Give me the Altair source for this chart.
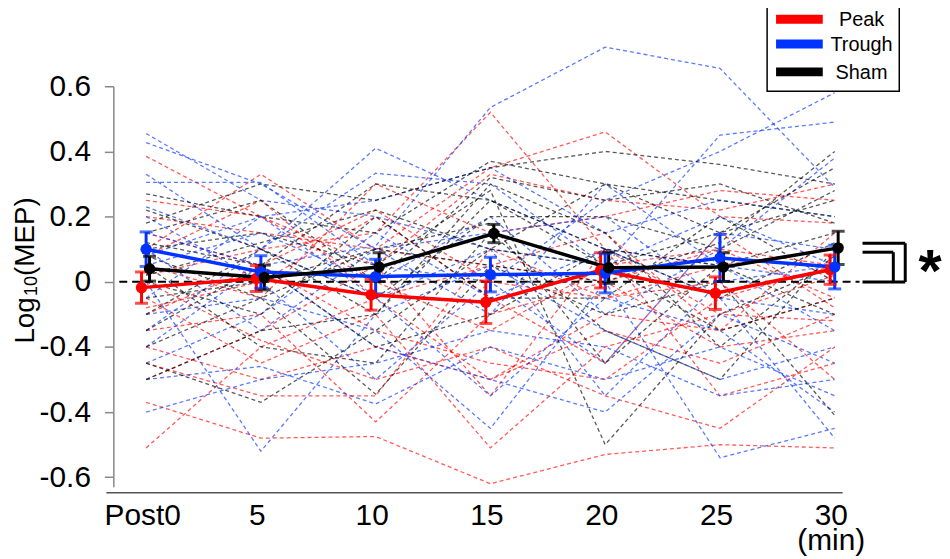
import altair as alt
import pandas as pd

# ---------------- data ----------------
time_labels = ["Post0", "5", "10", "15", "20", "25", "30"]
groups = ["Peak", "Trough", "Sham"]
group_colors = ["#ff0000", "#0033ff", "#000000"]

peak_mean = [-0.018, 0.010, -0.040, -0.063, 0.035, -0.035, 0.037]
peak_sem = [0.048, 0.040, 0.047, 0.065, 0.054, 0.050, 0.045]
trough_mean = [0.100, 0.030, 0.016, 0.022, 0.026, 0.073, 0.045]
trough_sem = [0.053, 0.050, 0.053, 0.053, 0.060, 0.072, 0.067]
sham_mean = [0.040, 0.013, 0.045, 0.148, 0.043, 0.045, 0.104]
sham_sem = [0.038, 0.038, 0.044, 0.028, 0.048, 0.044, 0.051]

peak_subjects = [
    [-0.37, -0.48, -0.475, -0.62, -0.53, -0.50, -0.51],
    [-0.51, -0.20, -0.05, -0.30, -0.10, -0.15, -0.05],
    [0.385, 0.20, 0.05, 0.33, 0.25, 0.22, 0.30],
    [0.10, 0.33, 0.10, 0.05, 0.00, 0.10, 0.05],
    [0.02, 0.10, 0.15, 0.52, 0.10, -0.10, 0.02],
    [0.20, 0.15, 0.10, 0.35, 0.46, 0.20, 0.18],
    [-0.15, -0.10, -0.43, -0.10, 0.00, -0.20, -0.15],
    [-0.05, -0.25, -0.10, -0.51, -0.20, -0.10, -0.12],
    [0.00, -0.18, -0.30, -0.20, -0.35, -0.45, -0.20],
    [-0.20, -0.30, -0.20, -0.30, -0.15, -0.25, -0.10],
    [0.15, 0.05, 0.22, 0.00, -0.05, 0.05, 0.10],
    [-0.10, 0.05, -0.15, -0.25, -0.30, -0.05, 0.05],
    [0.05, -0.05, 0.30, 0.15, 0.20, 0.28, 0.25],
    [-0.25, -0.35, -0.35, 0.10, -0.05, 0.00, -0.30],
    [0.25, 0.20, 0.00, -0.15, 0.05, 0.10, -0.05],
    [-0.30, -0.15, 0.05, -0.35, 0.10, -0.35, -0.25],
    [0.08, 0.25, -0.05, 0.05, 0.15, -0.15, 0.15],
    [-0.08, 0.00, 0.20, -0.05, -0.25, 0.15, -0.08],
]
trough_subjects = [
    [0.15, 0.05, 0.11, 0.535, 0.72, 0.655, 0.29],
    [0.455, 0.25, 0.20, 0.10, 0.05, 0.20, 0.05],
    [0.427, 0.30, 0.10, 0.15, 0.20, -0.05, -0.10],
    [0.33, 0.10, 0.41, 0.25, 0.10, 0.05, 0.00],
    [0.305, 0.305, 0.05, 0.00, 0.25, 0.40, 0.58],
    [0.23, 0.10, 0.333, 0.30, 0.05, 0.45, 0.49],
    [-0.30, -0.26, -0.375, -0.20, -0.30, -0.20, -0.35],
    [0.00, -0.52, -0.10, 0.05, -0.15, -0.30, -0.20],
    [-0.20, 0.05, -0.20, -0.30, -0.40, -0.10, -0.25],
    [-0.10, -0.05, -0.15, -0.45, 0.00, -0.54, -0.45],
    [0.05, 0.15, 0.00, 0.20, -0.10, 0.10, 0.38],
    [-0.40, -0.30, -0.25, -0.15, -0.20, -0.35, -0.30],
    [0.10, -0.15, 0.10, -0.10, 0.30, 0.05, -0.15],
    [-0.05, 0.20, -0.05, -0.35, -0.05, -0.15, -0.40],
    [0.20, 0.00, -0.30, 0.00, -0.25, 0.15, 0.10],
    [-0.25, -0.10, 0.15, -0.05, 0.10, -0.05, -0.48],
    [0.08, 0.20, 0.25, 0.35, 0.15, 0.25, 0.20],
    [-0.15, 0.10, -0.05, 0.10, -0.35, 0.00, 0.05],
]
sham_subjects = [
    [0.27, 0.20, 0.15, 0.37, 0.30, 0.25, 0.20],
    [0.18, 0.30, 0.25, 0.35, 0.40, 0.36, 0.30],
    [-0.25, -0.37, -0.15, 0.10, 0.05, 0.15, 0.35],
    [-0.20, -0.05, -0.345, 0.05, -0.10, 0.00, -0.41],
    [0.10, 0.15, 0.05, 0.28, -0.50, -0.10, 0.05],
    [0.05, -0.20, -0.25, 0.15, -0.15, -0.30, 0.10],
    [0.12, 0.05, 0.30, 0.25, 0.10, 0.05, 0.15],
    [-0.10, 0.10, -0.05, 0.20, 0.20, 0.10, 0.28],
    [0.00, -0.10, 0.20, -0.05, -0.05, 0.20, 0.00],
    [0.22, 0.10, -0.10, 0.30, 0.15, -0.20, 0.08],
    [-0.05, 0.00, 0.10, 0.18, -0.25, 0.05, -0.10],
    [0.15, 0.25, 0.00, 0.32, 0.25, 0.30, 0.18],
    [-0.15, 0.05, -0.20, -0.10, 0.10, -0.05, 0.12],
    [0.08, -0.05, 0.10, 0.05, 0.00, 0.12, 0.40],
    [-0.30, -0.15, -0.10, 0.25, 0.05, -0.15, -0.05],
    [0.02, 0.12, 0.22, 0.10, 0.30, 0.15, 0.25],
]

y_tick_values = [-0.6, -0.4, -0.2, 0, 0.2, 0.4, 0.6]
y_tick_labels = ["-0.6", "-0.4", "-0.4", "0", "0.2", "0.4", "0.6"]
x_unit_label = "(min)"
y_title_parts = ["Log", "10", "(MEP)"]
signif_mark = "*"

# ---------------- tables ----------------
means = {"Peak": (peak_mean, peak_sem), "Trough": (trough_mean, trough_sem),
         "Sham": (sham_mean, sham_sem)}
subjects = {"Peak": peak_subjects, "Trough": trough_subjects, "Sham": sham_subjects}
dodge = {"Peak": -0.04, "Trough": 0.0, "Sham": 0.03}

thin_rows = []
for g in groups:
    for s, series in enumerate(subjects[g]):
        for i, v in enumerate(series):
            thin_rows.append({"group": g, "subject": f"{g}{s}", "idx": i, "value": v})
thin_df = pd.DataFrame(thin_rows)

mean_rows = []
for g in groups:
    m, e = means[g]
    for i in range(len(time_labels)):
        mean_rows.append({"group": g, "idx": i, "xp": i + dodge[g], "mean": m[i],
                          "lo": m[i] - e[i], "hi": m[i] + e[i]})
mean_df = pd.DataFrame(mean_rows)

# ---------------- scales / axes ----------------
W, H = 734, 403
FONT = "Liberation Sans"

xs = alt.Scale(domain=[-0.2857, 6.069], nice=False, zero=False)
ys = alt.Scale(domain=[-0.629, 0.6], nice=False, zero=False)
cs = alt.Scale(domain=groups, range=group_colors)

y_expr = "''"
for v, lab in zip(y_tick_values, y_tick_labels):
    y_expr = f"round(datum.value*10)=={round(v*10)} ? '{lab}' : ({y_expr})"
x_expr = "''"
for i, lab in enumerate(time_labels):
    if i == len(time_labels) - 1:
        x_expr = f"round(datum.value)=={i} ? ['{lab}','{x_unit_label}'] : ({x_expr})"
    else:
        x_expr = f"round(datum.value)=={i} ? '{lab}' : ({x_expr})"

xaxis = alt.Axis(title=None, values=list(range(len(time_labels))), labelExpr=x_expr,
                 domain=False, ticks=False, tickSize=0, grid=False, offset=6,
                 labelFontSize=30, labelFont=FONT, labelColor="black",
                 labelPadding=8, labelOffset=-4, labelLineHeight=25,
                 labelBaseline="top", labelFlush=False, labelOverlap=False)
yaxis = alt.Axis(title=None, values=y_tick_values, labelExpr=y_expr, grid=False,
                 domainColor="#888888", domainWidth=1.5, tickColor="#888888",
                 tickWidth=1.5, tickSize=9, labelFontSize=30, labelFont=FONT,
                 labelColor="black", labelPadding=14, labelFlush=False,
                 labelOverlap=False)

X = lambda f: alt.X(f, type="quantitative", scale=xs, axis=xaxis)
Y = lambda f: alt.Y(f, type="quantitative", scale=ys, axis=yaxis)
C = lambda: alt.Color("group:N", scale=cs, legend=None)

# ---------------- layers ----------------
thin = alt.Chart(thin_df).mark_line(strokeDash=[4, 3], strokeWidth=1.3, opacity=0.65).encode(
    x=X("idx"), y=Y("value"), color=C(), detail="subject:N", order="idx:Q")

one = pd.DataFrame({"a": [0]})

zero = alt.Chart(one).mark_rule(color="black", strokeWidth=2, strokeDash=[8, 5]).encode(
    y=alt.Y(datum=0, scale=ys, axis=yaxis), x=alt.value(6), x2=alt.value(751))

xline = alt.Chart(one).mark_rule(color="#555555", strokeWidth=1.5).encode(
    x=alt.value(-7), x2=alt.value(W), y=alt.value(H + 6))

stems = alt.Chart(mean_df).mark_rule(strokeWidth=3).encode(
    x=X("xp"), y=Y("lo"), y2="hi", color=C())
cap_lo = alt.Chart(mean_df).mark_tick(orient="horizontal", size=13, thickness=3).encode(
    x=X("xp"), y=Y("lo"), color=C())
cap_hi = alt.Chart(mean_df).mark_tick(orient="horizontal", size=13, thickness=3).encode(
    x=X("xp"), y=Y("hi"), color=C())

mline = alt.Chart(mean_df).mark_line(strokeWidth=3.5).encode(
    x=X("xp"), y=Y("mean"), color=C(), order="idx:Q")
mpts = alt.Chart(mean_df).mark_circle(size=130, opacity=1).encode(
    x=X("xp"), y=Y("mean"), color=C())

# ---------------- legend (drawn box at top right) ----------------
leg_box = alt.Chart(one).mark_rect(fill="white", stroke="black", strokeWidth=1.5).encode(
    x=alt.value(658), x2=alt.value(791), y=alt.value(-82), y2=alt.value(5))
leg_rows = [-67.5, -42.5, -14.5]
leg_layers = []
for g, col, ry in zip(groups, group_colors, leg_rows):
    leg_layers.append(alt.Chart(one).mark_rule(color=col, strokeWidth=9).encode(
        x=alt.value(667), x2=alt.value(714), y=alt.value(ry)))
    leg_layers.append(alt.Chart(one).mark_text(fontSize=20, font=FONT, color="black",
                                               align="center", baseline="middle").encode(
        x=alt.value(753), y=alt.value(ry + 1), text=alt.value(g)))

# significance bracket (annotation, pixel positions within the plot)
segs = [(754, 158, 797, 158), (797, 158, 797, 197), (754, 197, 797, 197),
        (754, 167, 785, 167), (785, 167, 785, 197)]
bracket = [alt.Chart(one).mark_rule(color="black", strokeWidth=3).encode(
    x=alt.value(a), x2=alt.value(c), y=alt.value(b), y2=alt.value(d)) for a, b, c, d in segs]
star = alt.Chart(one).mark_text(fontSize=60, fontWeight="bold", font=FONT, align="center",
                                baseline="alphabetic", color="black").encode(
    x=alt.value(822), y=alt.value(206), text=alt.value(signif_mark))

# y title: Log_10(MEP)
t1 = alt.Chart(one).mark_text(angle=270, align="left", baseline="alphabetic", fontSize=28,
                              font=FONT, color="black").encode(
    x=alt.value(-80), y=alt.value(259), text=alt.value(y_title_parts[0]))
t2 = alt.Chart(one).mark_text(angle=270, align="left", baseline="alphabetic", fontSize=18,
                              font=FONT, color="black").encode(
    x=alt.value(-77), y=alt.value(211), text=alt.value(y_title_parts[1]))
t3 = alt.Chart(one).mark_text(angle=270, align="left", baseline="alphabetic", fontSize=28,
                              font=FONT, color="black").encode(
    x=alt.value(-80), y=alt.value(191), text=alt.value(y_title_parts[2]))

chart = alt.layer(thin, zero, xline, stems, cap_lo, cap_hi, mline, mpts, leg_box,
                  *leg_layers, *bracket, star, t1, t2, t3).properties(
    width=W, height=H,
    autosize=alt.AutoSizeParams(type="none"),
    padding={"left": 106, "top": 77, "right": 100, "bottom": 71},
).configure(background="white", view=alt.ViewConfig(stroke=None))

chart.save("out.html", embed_options={"renderer": "svg", "actions": False})
